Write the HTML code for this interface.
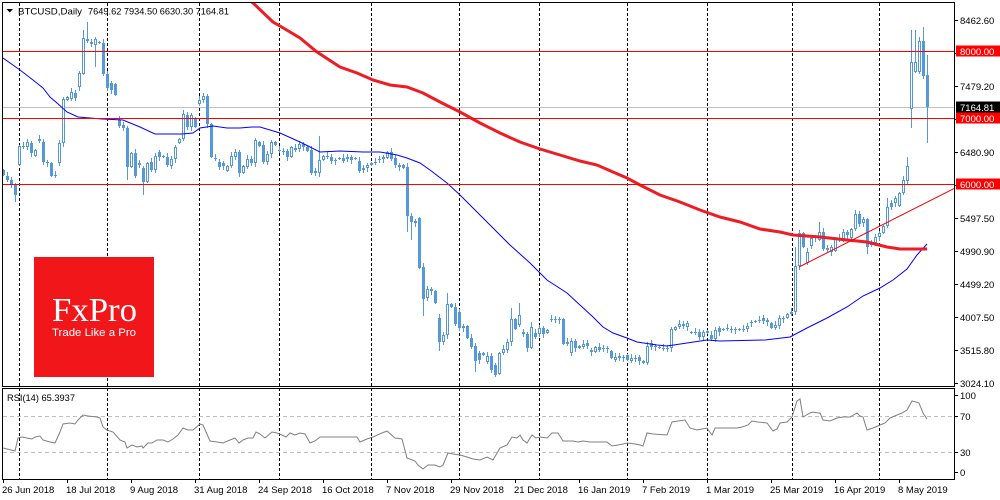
<!DOCTYPE html>
<html><head><meta charset="utf-8"><style>
html,body{margin:0;padding:0;background:#fff;}
svg{display:block;font-family:"Liberation Sans",Arial,sans-serif;}
</style></head><body>
<svg id="s" width="1000" height="500" viewBox="0 0 1000 500" xmlns="http://www.w3.org/2000/svg">
<defs><clipPath id="cm"><rect x="3" y="3" width="951" height="383"/></clipPath>
<clipPath id="cr"><rect x="3" y="389" width="951" height="90"/></clipPath></defs>
<rect width="1000" height="500" fill="#fff"/>
<g stroke="#000" stroke-width="1" stroke-dasharray="3,2">
<line x1="19.5" y1="3" x2="19.5" y2="479"/><line x1="107.5" y1="3" x2="107.5" y2="479"/>
<line x1="199.5" y1="3" x2="199.5" y2="479"/><line x1="279.5" y1="3" x2="279.5" y2="479"/>
<line x1="371.5" y1="3" x2="371.5" y2="479"/><line x1="459.5" y1="3" x2="459.5" y2="479"/>
<line x1="539.5" y1="3" x2="539.5" y2="479"/><line x1="627.5" y1="3" x2="627.5" y2="479"/>
<line x1="707.5" y1="3" x2="707.5" y2="479"/><line x1="792.5" y1="3" x2="792.5" y2="479"/>
<line x1="879.5" y1="3" x2="879.5" y2="479"/>
</g>
<line x1="3" y1="107.5" x2="954" y2="107.5" stroke="#c0c0c0"/>
<g id="cd" clip-path="url(#cm)"></g>
<g clip-path="url(#cm)" fill="none">
<polyline stroke="#0000ff" stroke-width="1" points="3,58 20,70 33,80 43,88 50,97 57,103 67,112 78,117 102,119 123,120 140,127 155,134 182,134 193,133 200,128 213,126 227,128 240,128 252,127 260,127 280,133 300,142 320,152 340,151 363,152 380,152 397,155 407,158 420,163 430,170 447,183 460,195 470,205 480,215 493,228 510,245 530,263 547,280 567,293 580,305 593,317 603,327 613,333 627,338 637,342 657,345 667,346 687,343 707,340 720,341 765,340 790,337 807,328 827,318 847,307 863,296 880,288 893,280 907,269 917,255 927,244"/>
<polyline stroke="#ee1c24" stroke-width="3" points="249,0 252,2 273,22 280,26 300,38 317,52 340,67 357,73 373,80 390,85 407,87 423,93 440,102 460,112 480,123 500,133 520,142 540,149 560,155 580,161 597,165 613,172 627,178 640,185 660,195 680,202 700,210 720,217 740,222 760,229 780,232 793,235 820,237 847,240 867,242 887,247 900,249 927,249"/>
<line x1="799" y1="267" x2="955" y2="188" stroke="#ff0000" stroke-width="1"/>
</g>
<g stroke="#ff0000" stroke-width="1">
<line x1="3" y1="51.5" x2="954" y2="51.5"/>
<line x1="3" y1="118.5" x2="954" y2="118.5"/>
<line x1="3" y1="184.5" x2="954" y2="184.5"/>
</g>
<g stroke="#c0c0c0" stroke-dasharray="4,3"><line x1="3" y1="416.5" x2="954" y2="416.5"/><line x1="3" y1="452.5" x2="954" y2="452.5"/></g>
<polyline clip-path="url(#cr)" fill="none" stroke="#808080" stroke-width="1" points="3,448 15,451 18,438 22,437 27,438 32,439 35,437 40,436 43,440 50,442 55,443 60,432 63,424 70,423 75,424 78,420 83,415 88,416 97,417 100,418 103,427 107,430 113,432 120,440 125,442 127,448 132,445 137,447 142,446 143,448 148,443 152,443 157,440 163,440 168,442 173,439 178,435 183,428 188,430 193,430 200,424 203,425 210,441 217,442 223,443 230,440 235,438 239,443 243,440 248,438 253,438 256,432 260,434 265,438 272,432 277,433 282,435 286,437 290,433 295,435 300,433 305,434 310,443 315,441 320,437 333,437 340,437 353,437 357,437 360,442 367,439 373,437 382,433 387,431 395,438 402,439 407,458 415,461 418,465 423,469 428,465 435,465 440,467 443,465 448,453 453,454 460,455 467,457 473,459 480,460 487,457 493,460 500,448 507,445 512,437 517,438 520,435 523,440 527,443 532,435 536,438 540,437 547,438 552,433 558,433 563,441 573,441 578,442 583,441 590,442 597,442 607,442 612,446 618,445 623,444 628,443 635,444 640,445 643,446 647,433 653,434 667,435 672,422 678,421 685,420 690,428 697,430 702,429 707,428 712,435 715,428 722,428 730,428 737,428 742,427 748,425 752,421 758,422 767,423 773,431 777,429 780,423 787,422 792,417 797,401 800,399 803,417 810,413 813,412 818,413 820,413 823,420 830,421 837,418 843,417 850,417 857,413 860,416 863,417 867,430 873,428 880,425 885,423 890,418 897,415 902,413 907,410 912,401 916,402 919,403 923,413 927,419"/>
<g stroke="#000" stroke-width="1" fill="none">
<rect x="2.5" y="2.5" width="952" height="384"/>
<rect x="2.5" y="388.5" width="952" height="91"/>
<line x1="954.5" y1="20.5" x2="958" y2="20.5"/><line x1="954.5" y1="53.5" x2="958" y2="53.5"/>
<line x1="954.5" y1="86.5" x2="958" y2="86.5"/><line x1="954.5" y1="119.5" x2="958" y2="119.5"/>
<line x1="954.5" y1="152.5" x2="958" y2="152.5"/><line x1="954.5" y1="185.5" x2="958" y2="185.5"/>
<line x1="954.5" y1="218.5" x2="958" y2="218.5"/><line x1="954.5" y1="251.5" x2="958" y2="251.5"/>
<line x1="954.5" y1="284.5" x2="958" y2="284.5"/><line x1="954.5" y1="317.5" x2="958" y2="317.5"/>
<line x1="954.5" y1="350.5" x2="958" y2="350.5"/><line x1="954.5" y1="383.5" x2="958" y2="383.5"/>
<line x1="954.5" y1="395.5" x2="958" y2="395.5"/><line x1="954.5" y1="416.5" x2="958" y2="416.5"/>
<line x1="954.5" y1="452.5" x2="958" y2="452.5"/><line x1="954.5" y1="472.5" x2="958" y2="472.5"/>
<line x1="3.5" y1="479" x2="3.5" y2="483"/><line x1="67.5" y1="479" x2="67.5" y2="483"/>
<line x1="131.5" y1="479" x2="131.5" y2="483"/><line x1="195.5" y1="479" x2="195.5" y2="483"/>
<line x1="259.5" y1="479" x2="259.5" y2="483"/><line x1="323.5" y1="479" x2="323.5" y2="483"/>
<line x1="387.5" y1="479" x2="387.5" y2="483"/><line x1="451.5" y1="479" x2="451.5" y2="483"/>
<line x1="515.5" y1="479" x2="515.5" y2="483"/><line x1="579.5" y1="479" x2="579.5" y2="483"/>
<line x1="643.5" y1="479" x2="643.5" y2="483"/><line x1="707.5" y1="479" x2="707.5" y2="483"/>
<line x1="771.5" y1="479" x2="771.5" y2="483"/><line x1="835.5" y1="479" x2="835.5" y2="483"/>
<line x1="899.5" y1="479" x2="899.5" y2="483"/>
</g>
<g font-size="9.5" fill="#000">
<text x="960" y="24">8462.60</text>
<text x="960" y="90">7479.20</text>
<text x="960" y="156">6480.90</text>
<text x="960" y="222">5497.50</text>
<text x="960" y="255">4990.90</text>
<text x="960" y="288">4499.20</text>
<text x="960" y="321">4007.50</text>
<text x="960" y="354">3515.80</text>
<text x="960" y="387">3024.10</text>
<text x="960" y="399">100</text>
<text x="960" y="420">70</text>
<text x="960" y="456">30</text>
<text x="960" y="476">0</text>
</g>
<rect x="956" y="45.5" width="44" height="11" fill="#ff0000"/>
<rect x="956" y="101.5" width="44" height="11" fill="#000"/>
<rect x="956" y="112.5" width="44" height="11" fill="#ff0000"/>
<rect x="956" y="178.5" width="44" height="11" fill="#ff0000"/>
<g font-size="9.5" fill="#fff">
<text x="960" y="55">8000.00</text>
<text x="960" y="111">7164.81</text>
<text x="960" y="122">7000.00</text>
<text x="960" y="188">6000.00</text>
</g>
<g font-size="9.5" fill="#000">
<text x="2" y="493">26 Jun 2018</text>
<text x="66" y="493">18 Jul 2018</text>
<text x="130" y="493">9 Aug 2018</text>
<text x="194" y="493">31 Aug 2018</text>
<text x="258" y="493">24 Sep 2018</text>
<text x="322" y="493">16 Oct 2018</text>
<text x="386" y="493">7 Nov 2018</text>
<text x="450" y="493">29 Nov 2018</text>
<text x="514" y="493">21 Dec 2018</text>
<text x="578" y="493">16 Jan 2019</text>
<text x="642" y="493">7 Feb 2019</text>
<text x="706" y="493">1 Mar 2019</text>
<text x="770" y="493">25 Mar 2019</text>
<text x="834" y="493">16 Apr 2019</text>
<text x="898" y="493">8 May 2019</text>
</g>
<polygon points="6.5,9 13,9 9.75,12.5" fill="#000"/>
<text x="18" y="14.5" font-size="9.5" textLength="64" lengthAdjust="spacingAndGlyphs">BTCUSD,Daily</text>
<text x="88" y="14.5" font-size="9.5" textLength="141" lengthAdjust="spacingAndGlyphs">7649.62 7934.50 6630.30 7164.81</text>
<text x="7" y="401" font-size="9.5" textLength="68" lengthAdjust="spacingAndGlyphs">RSI(14) 65.3937</text>
<rect x="34" y="257" width="120" height="120" fill="#f0161a"/>
<text x="52" y="321" font-family="Liberation Serif, serif" font-size="34" fill="#fff" textLength="85" lengthAdjust="spacingAndGlyphs">FxPro</text>
<text x="52" y="336" font-size="11" fill="#fff" textLength="84" lengthAdjust="spacingAndGlyphs">Trade Like a Pro</text>
</svg>
<script>
var D=[
[170,175],[176,180],[180,185],[185,195,0,202],[165,146],[146,147],[147,142],[143,153],[156,150],[141,139],
[142,162],[162,163],[163,176],[175,176],[163,143],[143,99],[100,97],[99,92],[93,98],[87,73],
[74,38,30],[39,41,22],[42,44],[45,39,0,67],[43,42],[43,74],[74,88],[83,90],[84,95],[120,126],
[125,128],[128,167,0,180],[167,153],[153,176],[163,165],[168,182,0,195],[182,163],[162,170],[170,156],[152,157],
[156,157],[157,165],[166,159],[159,147],[143,139],[139,114],[115,127],[127,115],[118,127],[104,100],
[100,96,93],[96,124],[124,157],[158,159],[162,167],[163,166],[171,166],[166,156],[157,152],[152,173],
[173,166],[167,159],[159,163],[163,140],[142,146],[145,162],[162,154],[154,142],[142,145],[150,151],
[151,152],[151,157],[157,147],[148,150],[149,144],[144,147],[147,151],[150,173],[171,173],[173,160,136],
[160,156],[156,157],[157,161],[160,161],[158,159],[158,161],[159,157],[157,160],[158,159],[161,171],
[170,168],[168,165],[165,163],[162,163],[159,160],[159,157],[158,152],[152,159],[158,165],[167,165],
[165,168],[167,216,0,232],[216,222,0,240],[221,223],[218,268],[267,299,0,316],[298,289],[289,291],[291,303],[318,342,0,351],
[342,335],[335,304,293],[304,307],[307,324],[312,328],[328,326],[326,338],[338,347],[346,361,0,372],[353,360],
[353,355],[362,356],[356,370],[365,375,0,377],[374,353],[353,349],[350,342],[342,319,308],[319,329],[325,315,303],
[332,334],[334,348],[348,327,322],[333,337],[334,328],[328,334],[333,330],[319,320],[319,320],[319,320],
[319,344],[344,342],[353,341],[341,348],[348,346],[347,344],[343,346],[350,352],[352,347],[347,350],
[348,349],[348,349],[351,358],[360,357],[358,356],[357,358],[355,360],[361,358],[358,359],[357,361],
[361,363],[363,346],[343,347],[346,347],[347,348],[348,349],[348,349],[348,329],[330,327],[327,324],
[326,324],[327,323],[332,333],[332,333],[332,337],[337,332],[333,331],[335,339],[339,330],[328,332],
[329,330],[328,329],[329,330],[329,330],[329,330],[329,330],[329,326],[322,323],[321,322],[320,321],
[318,321],[320,322],[323,328],[328,325],[326,318],[318,319],[318,314],[314,312],[312,266,247],[266,233,230],
[233,247],[263,252],[246,238],[237,238],[240,232,222],[232,249],[248,250],[252,247],[251,238],[238,240],
[239,232],[232,235],[238,229],[229,214,210],[214,224],[223,219],[219,247,0,254],[244,245],[243,237],[237,233],
[233,226],[226,207,198],[203,207],[203,198],[206,193],[193,180],[181,166,157],
[109,62,30,128],[72,62,30],[72,41],[41,76,27],[75,107,55,143]
];
var C="#5599d8",s="";
for(var i=0;i<D.length;i++){
 var d=D[i],o=d[0],c=d[1],x=3.5+4*i,t=Math.min(o,c),b=Math.max(o,c);
 var wt=d[2]||t-(1+(i*7)%4), wb=d[3]||b+(1+(i*13)%4);
 s+='<line x1="'+x+'" y1="'+wt+'" x2="'+x+'" y2="'+wb+'" stroke="'+C+'"/>';
 var h=b-t;
 if(h<2){s+='<rect x="'+(x-1.5)+'" y="'+t+'" width="3" height="1" fill="'+C+'"/>';}
 else if(c<o){s+='<rect x="'+(x-1)+'" y="'+(t+0.5)+'" width="2" height="'+(h-1)+'" fill="#fff" stroke="'+C+'"/>';}
 else{s+='<rect x="'+(x-1.5)+'" y="'+t+'" width="3" height="'+h+'" fill="'+C+'"/>';}
}
document.getElementById("cd").innerHTML=s;
</script>
</body></html>
